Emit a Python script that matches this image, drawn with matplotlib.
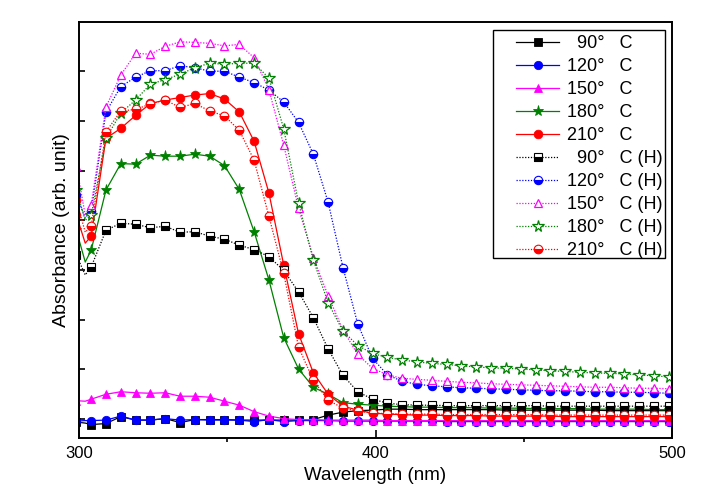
import matplotlib
matplotlib.use('Agg')
import matplotlib.pyplot as plt
from matplotlib.patches import Rectangle
from matplotlib.ticker import MultipleLocator, NullFormatter

plt.rcParams['font.family'] = ['Liberation Sans', 'DejaVu Sans']

# wavelength (nm); 302 is only a line point (no marker), the rest carry markers
wl = [299, 302] + list(range(304, 500, 5))

a90 = [-0.006, -0.008, -0.011, -0.009, 0.005, -0.002, -0.002, 0.001, -0.007, -0.001, -0.001,
       -0.001, -0.002, -0.002, -0.002, -0.002, -0.002, -0.001, 0.008, 0.014, 0.017, 0.018,
       0.020, 0.020, 0.019, 0.019, 0.019, 0.019, 0.019, 0.019, 0.018, 0.018,
       0.018, 0.018, 0.018, 0.018, 0.018, 0.017, 0.017, 0.017, 0.017, 0.017]
a120 = [-0.004, -0.003, -0.003, -0.002, 0.006, -0.002, -0.002, 0.001, -0.002, -0.001, -0.002,
        -0.002, -0.002, -0.005, -0.001, -0.005, -0.003, -0.003, -0.003, -0.004, -0.004, -0.004,
        -0.004, -0.004, -0.004, -0.004, -0.005, -0.005, -0.005, -0.005, -0.005, -0.005,
        -0.005, -0.005, -0.005, -0.005, -0.005, -0.005, -0.005, -0.005, -0.005, -0.005]
a150 = [0.037, 0.036, 0.040, 0.050, 0.055, 0.053, 0.052, 0.053, 0.046, 0.046, 0.044,
        0.036, 0.028, 0.015, 0.006, 0.001, -0.001, -0.001, -0.002, -0.002, -0.002, -0.002,
        -0.003, -0.003, -0.003, -0.003, -0.003, -0.003, -0.003, -0.003, -0.003, -0.003,
        -0.003, -0.003, -0.003, -0.003, -0.003, -0.003, -0.003, -0.003, -0.003, -0.003]
a180 = [0.380, 0.316, 0.340, 0.461, 0.514, 0.513, 0.531, 0.529, 0.529, 0.533, 0.529,
        0.510, 0.462, 0.377, 0.280, 0.164, 0.101, 0.064, 0.050, 0.033, 0.030, 0.028,
        0.026, 0.025, 0.024, 0.024, 0.023, 0.023, 0.023, 0.022, 0.022, 0.022,
        0.021, 0.021, 0.021, 0.021, 0.020, 0.020, 0.020, 0.020, 0.019, 0.019]
a210 = [0.410, 0.354, 0.368, 0.565, 0.585, 0.611, 0.635, 0.642, 0.647, 0.652, 0.655,
        0.644, 0.618, 0.559, 0.455, 0.310, 0.172, 0.093, 0.050, 0.026, 0.018, 0.012,
        0.010, 0.009, 0.008, 0.008, 0.007, 0.007, 0.007, 0.006, 0.006, 0.006,
        0.006, 0.006, 0.005, 0.005, 0.005, 0.005, 0.005, 0.005, 0.005, 0.005]

h90 = [0.330, 0.290, 0.306, 0.380, 0.394, 0.392, 0.385, 0.388, 0.376, 0.377, 0.368,
       0.362, 0.350, 0.341, 0.327, 0.299, 0.256, 0.204, 0.141, 0.088, 0.055, 0.040,
       0.032, 0.029, 0.028, 0.028, 0.027, 0.027, 0.027, 0.027, 0.027, 0.027,
       0.027, 0.026, 0.026, 0.026, 0.026, 0.026, 0.026, 0.026, 0.026, 0.026]
h120 = [0.450, 0.405, 0.419, 0.618, 0.669, 0.688, 0.701, 0.701, 0.711, 0.707, 0.700,
        0.700, 0.688, 0.677, 0.662, 0.638, 0.597, 0.533, 0.436, 0.305, 0.191, 0.122,
        0.089, 0.076, 0.070, 0.067, 0.065, 0.063, 0.062, 0.061, 0.060, 0.059,
        0.058, 0.057, 0.057, 0.056, 0.055, 0.055, 0.054, 0.054, 0.053, 0.052]
h150 = [0.510, 0.410, 0.431, 0.628, 0.692, 0.736, 0.734, 0.750, 0.759, 0.758, 0.756,
        0.751, 0.754, 0.727, 0.663, 0.551, 0.424, 0.325, 0.248, 0.179, 0.130, 0.102,
        0.089, 0.082, 0.080, 0.078, 0.076, 0.074, 0.073, 0.071, 0.070, 0.069,
        0.068, 0.067, 0.066, 0.065, 0.064, 0.064, 0.063, 0.062, 0.062, 0.061]
h180 = [0.460, 0.400, 0.410, 0.565, 0.616, 0.642, 0.674, 0.683, 0.694, 0.707, 0.716,
        0.714, 0.716, 0.716, 0.686, 0.584, 0.435, 0.320, 0.234, 0.177, 0.148, 0.132,
        0.124, 0.119, 0.115, 0.112, 0.110, 0.107, 0.105, 0.103, 0.102, 0.101,
        0.099, 0.097, 0.096, 0.094, 0.093, 0.092, 0.091, 0.089, 0.087, 0.085]
h210 = [0.440, 0.376, 0.388, 0.578, 0.620, 0.623, 0.634, 0.642, 0.627, 0.635, 0.620,
        0.610, 0.581, 0.521, 0.408, 0.293, 0.145, 0.078, 0.038, 0.022, 0.016, 0.012,
        0.011, 0.010, 0.010, 0.010, 0.009, 0.009, 0.009, 0.009, 0.009, 0.009,
        0.009, 0.008, 0.008, 0.008, 0.008, 0.008, 0.008, 0.008, 0.008, 0.008]

labels = ['  90°   C', '120°   C', '150°   C', '180°   C', '210°   C',
          '  90°   C (H)', '120°   C (H)', '150°   C (H)', '180°   C (H)', '210°   C (H)']

mark = [0] + list(range(2, len(wl)))
green = '#008000'

fig = plt.figure(figsize=(7.07, 4.93), dpi=100)
ax = fig.add_axes([0.1122, 0.1116, 0.8380, 0.8438])

solid = [(a90, 'black', 's', 5.2), (a120, 'blue', 'o', 6), (a150, 'magenta', '^', 6.2),
         (a180, green, '*', 8), (a210, 'red', 'o', 6.2)]
handles = []
for (y, c, m, ms), lab in zip(solid, labels[:5]):
    h, = ax.plot(wl, y, '-', color=c, lw=0.9, marker=m, ms=ms, mfc=c, mec=c, mew=0.6,
                 markevery=mark, label=lab)
    handles.append(h)

dot = (0, (1, 1.3))
half = [(h90, 'black', 's', 5.2, 'bottom'), (h120, 'blue', 'o', 6, 'bottom'),
        (h150, 'magenta', '^', 6.4, 'none'), (h180, green, '*', 8.5, 'none'),
        (h210, 'red', 'o', 6.2, 'bottom')]
for (y, c, m, ms, fs), lab in zip(half, labels[5:]):
    if fs == 'none':
        h, = ax.plot(wl, y, linestyle=dot, color=c, lw=0.9, marker=m, ms=ms, mfc='white',
                     mec=c, mew=0.9, markevery=mark, label=lab)
    else:
        h, = ax.plot(wl, y, linestyle=dot, color=c, lw=0.9, marker=m, ms=ms, mfc=c,
                     mfcalt='white', fillstyle=fs, mec=c, mew=0.8, markevery=mark, label=lab)
    handles.append(h)

ax.set_xlim(300, 500)
ax.set_ylim(-0.038, 0.799)
ax.xaxis.set_major_locator(MultipleLocator(100))
ax.xaxis.set_minor_locator(MultipleLocator(50))
ax.yaxis.set_major_locator(MultipleLocator(0.1))
ax.yaxis.set_major_formatter(NullFormatter())
ax.tick_params(axis='both', direction='in', top=False, right=False, labelsize=12, width=1.2)
ax.tick_params(axis='x', which='major', length=6, pad=6)
ax.tick_params(axis='x', which='minor', length=3, width=1.2)
ax.tick_params(axis='y', which='major', length=4)
for s in ax.spines.values():
    s.set_linewidth(1.4)

ax.set_xlabel('Wavelength (nm)', fontsize=13.5, labelpad=4)
ax.set_ylabel('Absorbance (arb. unit)', fontsize=14, labelpad=3)

ax.add_patch(Rectangle((0.698, 0.4327), 0.2907, 0.5483, transform=ax.transAxes,
                       fill=False, ec='black', lw=1.0, zorder=5))
ax.legend(handles=handles, loc='upper right', bbox_to_anchor=(0.9845, 0.968),
          frameon=False, fontsize=13, borderpad=0, borderaxespad=0,
          handlelength=2.35, handletextpad=0.45, labelspacing=0.33)

fig.savefig('out.png', dpi=100)
